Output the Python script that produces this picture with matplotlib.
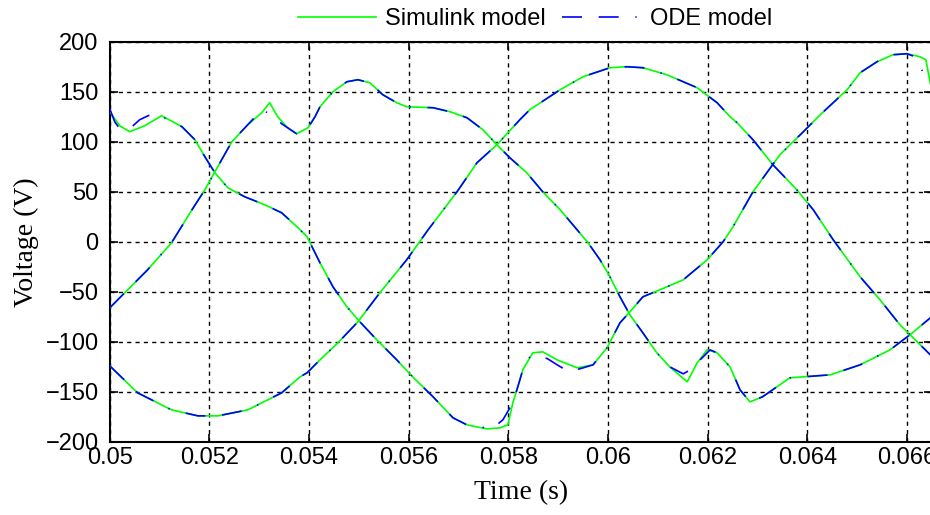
import matplotlib
matplotlib.use("Agg")
import matplotlib.pyplot as plt

plt.rcParams["font.family"] = ["Liberation Sans", "DejaVu Sans"]

# phase a
ta_sim = [0.0500, 0.0502, 0.0504, 0.0507, 0.05104, 0.05145, 0.05171, 0.05191, 0.05211, 0.05237,
          0.05271, 0.05311, 0.05345, 0.05378, 0.05396, 0.05422, 0.05448, 0.05476, 0.05502, 0.05536,
          0.05576, 0.05608, 0.05649, 0.05689, 0.05717, 0.05757, 0.05783, 0.05799, 0.05809, 0.05819,
          0.05829, 0.05849, 0.05869, 0.05898, 0.05938, 0.0597, 0.05998, 0.06024, 0.06044, 0.0607,
          0.06104, 0.06151, 0.06199, 0.06231, 0.06251, 0.06291, 0.06345, 0.06392, 0.06426, 0.0648,
          0.06506, 0.0654, 0.06572, 0.066, 0.06626, 0.06638, 0.06647]
va_sim = [130, 116, 110, 116, 126, 115, 102, 85, 69, 54,
          45, 37, 29, 14, 5, -21, -45, -65, -80, -98,
          -118, -135, -155, -176, -183, -187, -186, -183, -161, -145,
          -128, -111, -110, -118, -126, -123, -106, -81, -70, -55,
          -48, -38, -18, 0, 15, 50, 87, 110, 127, 152,
          169, 180, 187, 188, 185, 182, 158]
ta_ode = [0.0500, 0.0501, 0.0502, 0.0504, 0.0506, 0.0509, 0.05145, 0.05171, 0.05191, 0.05211, 0.05237,
          0.05271, 0.05311, 0.05345, 0.05378, 0.05396, 0.05422, 0.05448, 0.05476, 0.05502, 0.05536,
          0.05576, 0.05608, 0.05649, 0.05689, 0.05717, 0.05767, 0.05789, 0.05809, 0.05819,
          0.05829, 0.05843, 0.05859, 0.05879, 0.05898, 0.05922, 0.05950, 0.0597, 0.05998, 0.06024, 0.06044, 0.0607,
          0.06104, 0.06151, 0.06199, 0.06231, 0.06251, 0.06291, 0.06345, 0.06392, 0.06426, 0.0648,
          0.06506, 0.0654, 0.06572, 0.066, 0.06616, 0.06626, 0.06647]
va_ode = [133, 120, 113, 113, 122, 129, 115, 102, 85, 69, 54,
          45, 37, 29, 14, 5, -21, -45, -65, -80, -98,
          -118, -135, -155, -176, -183, -187, -178, -161, -145,
          -128, -115, -113, -117, -123, -130, -126, -123, -106, -81, -70, -55,
          -48, -38, -18, 0, 15, 50, 87, 110, 127, 152,
          169, 180, 187, 188, 185, 175, 157]

# phase b
tb_sim = [0.0500, 0.0503, 0.05076, 0.05124, 0.05165, 0.05191, 0.05211, 0.05245, 0.05277, 0.05305,
          0.05321, 0.05337, 0.05357, 0.05375, 0.05398, 0.05412, 0.05422, 0.05448, 0.05476, 0.05498,
          0.05522, 0.05548, 0.05576, 0.05596, 0.05649, 0.05683, 0.05717, 0.05749, 0.05777, 0.05803,
          0.05837, 0.05869, 0.05904, 0.05938, 0.0596, 0.05984, 0.06004, 0.06024, 0.06044, 0.0607,
          0.06098, 0.06124, 0.06159, 0.06179, 0.06199, 0.06219, 0.06245, 0.06265, 0.06285, 0.06310,
          0.06365, 0.06446, 0.06506, 0.06566, 0.06606, 0.06647]
vb_sim = [-66, -51, -28, -1, 32, 52, 70, 100, 117, 129,
          139, 125, 114, 108, 114, 125, 135, 150, 160, 162,
          159, 147, 139, 135, 134, 130, 124, 112, 97, 84,
          69, 50, 32, 12, -1, -18, -35, -55, -73, -91,
          -111, -125, -140, -121, -108, -111, -125, -148, -160, -155,
          -136, -133, -123, -108, -93, -76]
tb_ode = [0.0500, 0.0503, 0.05076, 0.05124, 0.05165, 0.05191, 0.05211, 0.05245, 0.05277, 0.05305,
          0.05325, 0.05345, 0.05357, 0.05375, 0.05398, 0.05412, 0.05422, 0.05448, 0.05476, 0.05498,
          0.05522, 0.05548, 0.05576, 0.05596, 0.05649, 0.05683, 0.05717, 0.05749, 0.05777, 0.05803,
          0.05837, 0.05869, 0.05904, 0.05938, 0.0596, 0.05984, 0.06004, 0.06024, 0.06044, 0.0607,
          0.06098, 0.06124, 0.06151, 0.06165, 0.06179, 0.06205, 0.06219, 0.06245, 0.06265, 0.06285, 0.06310,
          0.06365, 0.06446, 0.06506, 0.06566, 0.06606, 0.06647]
vb_ode = [-66, -51, -28, -1, 32, 52, 70, 100, 117, 132,
          127, 118, 114, 108, 114, 125, 135, 150, 160, 162,
          159, 147, 139, 135, 134, 130, 124, 112, 97, 84,
          69, 50, 32, 12, -1, -18, -35, -55, -73, -91,
          -111, -125, -132, -128, -121, -108, -111, -125, -148, -160, -155,
          -136, -133, -123, -108, -93, -76]

# phase c
tc_sim = [0.0500, 0.05056, 0.05124, 0.05177, 0.05217, 0.05277, 0.05345, 0.05382, 0.05396, 0.05412,
          0.05422, 0.05458, 0.05498, 0.05542, 0.05596, 0.05639, 0.05697, 0.05737, 0.05777, 0.05823,
          0.05843, 0.05904, 0.0595, 0.06004, 0.06038, 0.0607, 0.06118, 0.06179, 0.06219, 0.06245,
          0.06259, 0.06291, 0.06331, 0.06379, 0.06412, 0.06452, 0.06506, 0.06546, 0.06586, 0.06647]
vc_sim = [-124, -151, -168, -174, -174, -168, -151, -135, -131, -123,
          -118, -101, -80, -51, -18, 12, 50, 79, 97, 122,
          132, 152, 165, 174, 175, 174, 167, 154, 139, 125,
          119, 102, 77, 52, 32, 2, -35, -58, -83, -113]
tc_ode = tc_sim
vc_ode = [-124, -151, -168, -174, -174, -168, -151, -135, -131, -123,
          -118, -101, -80, -51, -18, 12, 50, 79, 97, 122,
          132, 152, 165, 174, 175, 174, 167, 154, 139, 125,
          119, 102, 77, 52, 32, 2, -35, -58, -83, -113]

xticks = [0.05, 0.052, 0.054, 0.056, 0.058, 0.06, 0.062, 0.064, 0.066]
xtick_labels = ["0.05", "0.052", "0.054", "0.056", "0.058", "0.06", "0.062", "0.064", "0.066"]
yticks = [-200, -150, -100, -50, 0, 50, 100, 150, 200]

green = "#00ff00"
blue = "#0000ff"
ode_dash = (0, (12, 10, 12, 10, 0.8, 10))

fig = plt.figure(figsize=(9.3, 5.15), dpi=100)
ax = fig.add_axes([0.118, 0.142, 0.884, 0.777])

sim_series = [(ta_sim, va_sim), (tb_sim, vb_sim), (tc_sim, vc_sim)]
ode_series = [(ta_ode, va_ode), (tb_ode, vb_ode), (tc_ode, vc_ode)]
for i, (t, v) in enumerate(sim_series):
    ax.plot(t, v, color=green, lw=1.2, solid_joinstyle="round",
            label="Simulink model" if i == 0 else None, zorder=3)
for i, (t, v) in enumerate(ode_series):
    ax.plot(t, v, color=blue, lw=1.2, linestyle=ode_dash, dash_joinstyle="round",
            label="ODE model" if i == 0 else None, zorder=4)

ax.set_xlim(0.05, 0.0665)
ax.set_ylim(-200, 200)
ax.set_xticks(xticks)
ax.set_xticklabels(xtick_labels)
ax.set_yticks(yticks)
ax.tick_params(direction="in", length=6, width=1.2, top=True, right=True, labelsize=17)
ax.tick_params(axis="x", pad=4)
ax.tick_params(axis="y", pad=8)
ax.grid(True, color="black", linestyle=(0, (3, 3)), linewidth=1.0)
for sp in ax.spines.values():
    sp.set_linewidth(1.5)

fig.text(26 / 930, 1 - 242 / 515, "Voltage (V)", rotation=90, ha="center", va="center",
         fontsize=20, family="Liberation Serif")
fig.text(521 / 930, 1 - 493 / 515, "Time (s)", ha="center", va="center",
         fontsize=20, family="Liberation Serif")

fig.legend(loc="center", bbox_to_anchor=(0.575, 0.963), ncol=2, frameon=False,
           fontsize=17, handlelength=3.3, handletextpad=0.4, columnspacing=0.7,
           borderpad=0, borderaxespad=0)

fig.savefig("out.png", dpi=100)
